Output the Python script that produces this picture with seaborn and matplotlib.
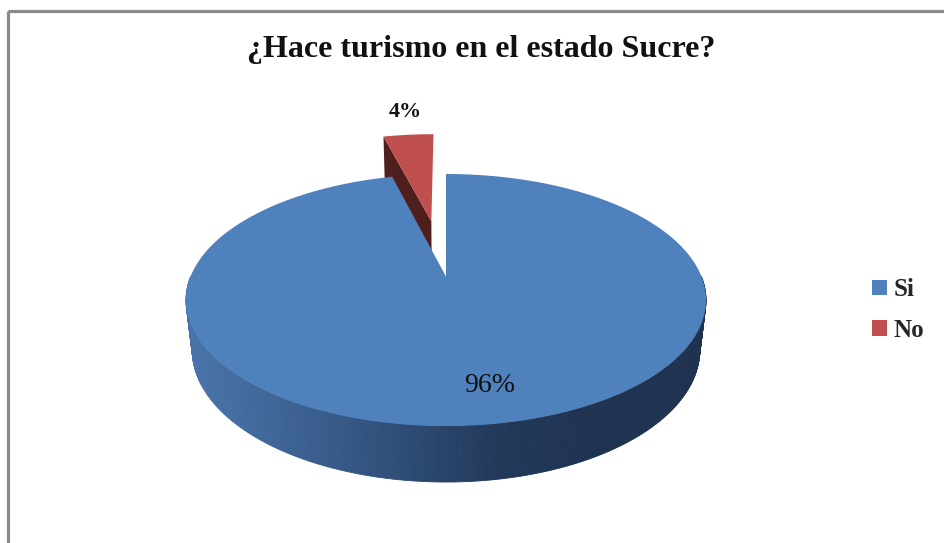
import numpy as np
import matplotlib
matplotlib.use("Agg")
import matplotlib.pyplot as plt
from matplotlib.patches import Polygon, Patch, Rectangle
import seaborn as sns

# Survey answers
labels = ["Si", "No"]
values = [96, 4]
title = "¿Hace turismo en el estado Sucre?"

top_colors = ["#4f81bd", "#c0504d"]
side_dark_red = "#4f1f1e"

sns.set_theme(style="white")
plt.rcParams["font.family"] = ["Liberation Serif", "DejaVu Serif"]

W, H = 944, 543
fig = plt.figure(figsize=(W / 100, H / 100), dpi=100)
ax = fig.add_axes([0, 0, 1, 1])
ax.set_xlim(0, W)
ax.set_ylim(H, 0)
ax.axis("off")

# chart frame (continues past the right and bottom edges)
ax.add_patch(Rectangle((8, 11), 1000, 600, fill=False, edgecolor="#8a8a8a", lw=2.3))

# --- simple perspective projection of a tilted disc ---
TILT = np.radians(29)
DIST = 4.7
DEPTH = 0.23
EXPLODE = 0.5  # pull-out distance of the "No" slice, in radii


def project(x, y, z):
    u = y * np.cos(TILT) + z * np.sin(TILT)
    w = z * np.cos(TILT) - y * np.sin(TILT)
    return x / (DIST + w), u / (DIST + w)


# fit the rim of the top face into the plot box
phi_all = np.linspace(0, 2 * np.pi, 721)
rx, ru = project(np.cos(phi_all), 0 * phi_all, np.sin(phi_all))
box_left, box_right, box_top, box_bottom = 186, 706, 174, 426
sx = (box_right - box_left) / (rx.max() - rx.min())
sy = (box_bottom - box_top) / (ru.max() - ru.min())
x_mid = (box_left + box_right) / 2 - sx * (rx.max() + rx.min()) / 2


def to_px(x, y, z):
    X, U = project(np.asarray(x, float), np.asarray(y, float), np.asarray(z, float))
    return np.column_stack([x_mid + sx * np.atleast_1d(X),
                            box_top + sy * (ru.max() - np.atleast_1d(U))])


def rim(phi, y, off=(0.0, 0.0)):
    return to_px(np.cos(phi) + off[0], np.full_like(phi, y), np.sin(phi) + off[1])


def hub(y, off=(0.0, 0.0)):
    return to_px([off[0]], [y], [off[1]])


# slice angles: start at 12 o'clock, go clockwise
total = float(sum(values))
bounds = [90.0]
for v in values:
    bounds.append(bounds[-1] - 360.0 * v / total)

# --- "No" slice, exploded outward along its mid angle (behind the rest) ---
a1, a2 = np.radians(bounds[1]), np.radians(bounds[2])
mid = (a1 + a2) / 2
off = (EXPLODE * np.cos(mid), EXPLODE * np.sin(mid))
edge_phi = np.array([a1])
side_face = np.vstack([hub(0.0, off), rim(edge_phi, 0.0, off),
                       rim(edge_phi, -DEPTH, off), hub(-DEPTH, off)])
ax.add_patch(Polygon(side_face, closed=True, facecolor=side_dark_red, edgecolor="none"))
phis = np.linspace(a1, a2, 40)
red_top = np.vstack([hub(0.0, off), rim(phis, 0.0, off)])
ax.add_patch(Polygon(red_top, closed=True, facecolor=top_colors[1], edgecolor="none"))

# --- "Si" slice outer wall with shading gradient ---
wall_phi = np.linspace(np.pi, 2 * np.pi, 260)
top_edge = rim(wall_phi, 0.0)
bot_edge = rim(wall_phi, -DEPTH)
shade = sns.blend_palette(["#4a74ab", "#3d6394", "#2f4e78", "#22395a", "#1f3250",
                           "#1f3250"], 200)
for i in range(len(wall_phi) - 1):
    quad = np.vstack([top_edge[i], top_edge[i + 1], bot_edge[i + 1], bot_edge[i]])
    frac = (quad[:, 0].mean() - box_left) / (box_right - box_left)
    col = shade[int(np.clip(frac, 0, 0.999) * len(shade))]
    ax.add_patch(Polygon(quad, closed=True, facecolor=col, edgecolor=col, lw=0.6))

# --- "Si" slice top face ---
b1, b2 = np.radians(bounds[0]), np.radians(bounds[1])
phis = np.linspace(b1, b2, 500)
blue_top = np.vstack([hub(0.0), rim(phis, 0.0)])
ax.add_patch(Polygon(blue_top, closed=True, facecolor=top_colors[0], edgecolor="none"))

# value labels
ax.text(490, 386, f"{values[0]}%", ha="center", va="center", fontsize=20,
        color="#111111")
ax.text(405, 112, f"{values[1]}%", ha="center", va="center", fontsize=16,
        fontweight="bold", color="#111111")

# title
ax.text(481, 50, title, ha="center", va="center", fontsize=23, fontweight="bold",
        color="#111111")

# legend
handles = [Patch(facecolor=c, edgecolor="none") for c in top_colors]
ax.legend(handles, labels, loc="center left",
          bbox_to_anchor=(872 / W, 1 - 310 / H), bbox_transform=fig.transFigure,
          frameon=False, prop={"weight": "bold", "size": 18},
          handlelength=0.6, handleheight=0.6, handletextpad=0.25,
          labelspacing=0.7, borderpad=0, borderaxespad=0)

fig.savefig("out.png", dpi=100, facecolor="white")
